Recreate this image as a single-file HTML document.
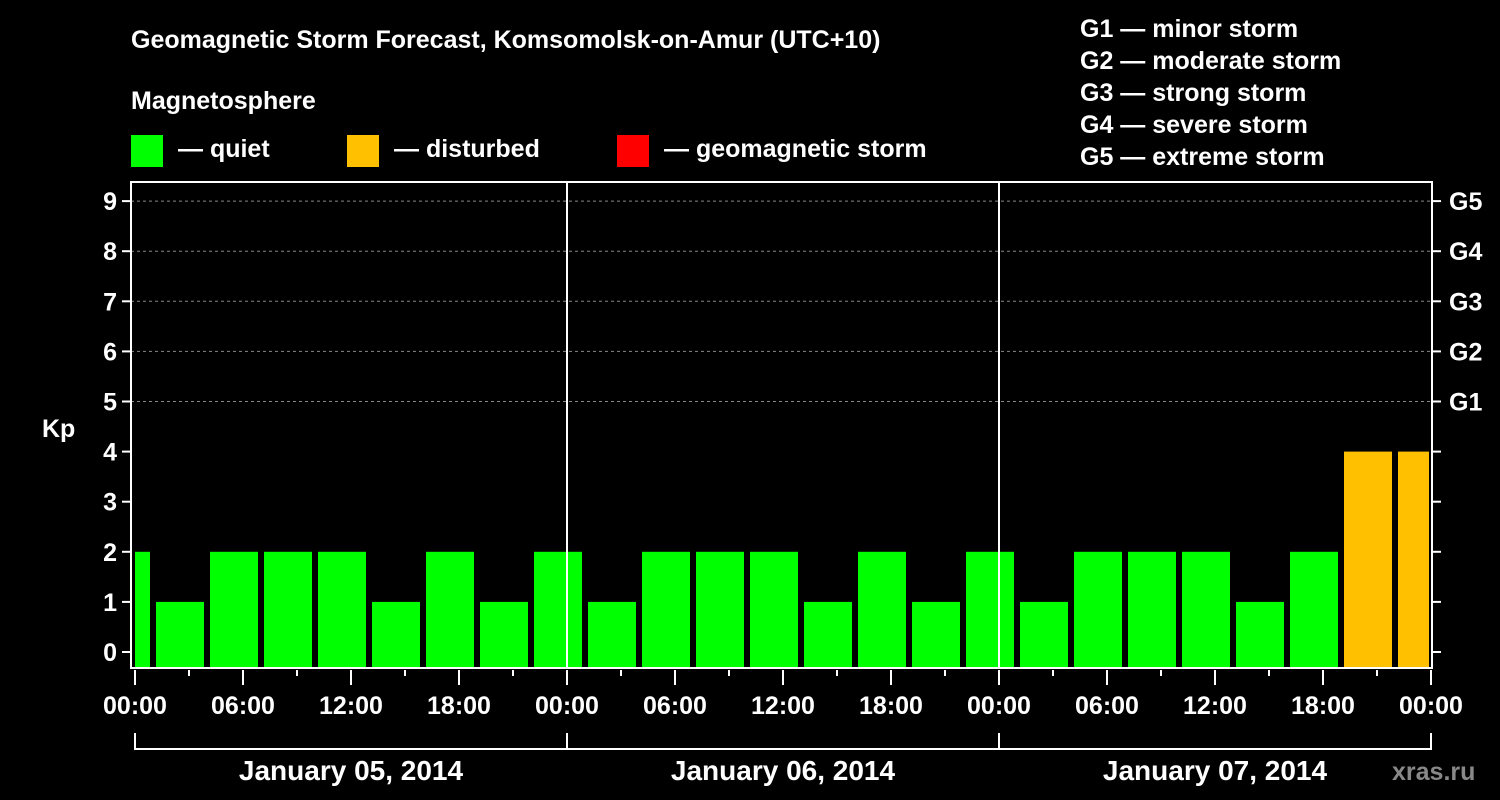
<!DOCTYPE html>
<html><head><meta charset="utf-8"><style>
body{margin:0;background:#000;}
svg{display:block;font-family:"Liberation Sans",Arial,sans-serif;font-weight:bold;}
</style></head><body>
<svg id="c" width="1500" height="800" xmlns="http://www.w3.org/2000/svg">
<rect width="1500" height="800" fill="#000"/>
<g fill="#fff" font-size="25">
<text x="131" y="48">Geomagnetic Storm Forecast, Komsomolsk-on-Amur (UTC+10)</text>
<text x="131" y="109">Magnetosphere</text>
<text x="178" y="157">— quiet</text>
<text x="394" y="157">— disturbed</text>
<text x="664" y="157">— geomagnetic storm</text>
<text x="1080" y="37">G1 — minor storm</text>
<text x="1080" y="69">G2 — moderate storm</text>
<text x="1080" y="101">G3 — strong storm</text>
<text x="1080" y="133">G4 — severe storm</text>
<text x="1080" y="165">G5 — extreme storm</text>
<text x="42" y="437">Kp</text>
<text x="1392" y="780" fill="#888" font-size="25">xras.ru</text>
</g>
<rect x="131" y="135" width="32" height="32" fill="#00ff00"/>
<rect x="347" y="135" width="32" height="32" fill="#ffc000"/>
<rect x="617" y="135" width="32" height="32" fill="#ff0000"/>
<g id="plot"></g>
</svg>
<script>
const values=[2,1,2,2,2,1,2,1,2,1,2,2,2,1,2,1,2,1,2,2,2,1,2,4,4];
const yTicks=[0,1,2,3,4,5,6,7,8,9];
const gLabels=[[5,"G1"],[6,"G2"],[7,"G3"],[8,"G4"],[9,"G5"]];
const hourLabels=["00:00","06:00","12:00","18:00","00:00","06:00","12:00","18:00","00:00","06:00","12:00","18:00","00:00"];
const dates=["January 05, 2014","January 06, 2014","January 07, 2014"];
const NS="http://www.w3.org/2000/svg";
const L=131,R=1432,T=182,B=668,x0=135;
const X=h=>x0+h*18;
const Y=v=>652-v*50.1;
const g=document.getElementById('plot');
function mk(t,a,txt){const e=document.createElementNS(NS,t);for(const k in a)e.setAttribute(k,a[k]);if(txt!==undefined)e.textContent=txt;g.appendChild(e);return e;}
// grid
for(const v of yTicks){
 if(v>=5){const e=mk('line',{x1:L,x2:R,y1:Y(v),y2:Y(v),stroke:'#888','stroke-dasharray':'3,3','stroke-width':1});
 
 }
 const t=mk('line',{x1:L-9,x2:L,y1:Y(v),y2:Y(v),stroke:'#fff','stroke-width':2});
 
 
 const t2=mk('line',{x1:R,x2:R+9,y1:Y(v),y2:Y(v),stroke:'#fff','stroke-width':2});
 
 
 const lb=mk('text',{x:L-14,y:Y(v)+9,fill:'#fff','font-size':25,'text-anchor':'end'},String(v));
 
 
}
for(const [v,s] of gLabels){
 const lb=mk('text',{x:R+17,y:Y(v)+9,fill:'#fff','font-size':25},s);
 
 
}
// bars
values.forEach((v,i)=>{
 let h0=-2+3*i,h1=h0+3;
 let xa=X(h0)+3,xb=X(h1)-3;
 if(xa<L+4)xa=L+4;
 if(xb>R-3)xb=R-3;
 const col=v>=5?'#ff0000':v>=4?'#ffc000':'#00ff00';
 const b=mk('rect',{x:xa,y:Y(v),width:xb-xa,height:B-Y(v),fill:col});
 
 
});
// day separators
for(const d of [1,2]){const e=mk('line',{x1:X(24*d),x2:X(24*d),y1:T,y2:B,stroke:'#fff','stroke-width':2});
 
 }
// frame
const f=mk('rect',{x:L,y:T,width:R-L,height:B-T,fill:'none',stroke:'#fff','stroke-width':2});


// x ticks
for(let h=0;h<=72;h+=3){const major=h%6===0;
 const e=mk('line',{x1:X(h),x2:X(h),y1:B+2,y2:B+(major?17:8),stroke:'#fff','stroke-width':2});
 
 }
hourLabels.forEach((s,i)=>{const t=mk('text',{x:X(i*6),y:714,fill:'#fff','font-size':25,'text-anchor':'middle'},s);
 
 });
// date bracket
const br=mk('path',{d:`M${X(0)},733 V749 H${X(72)} V733 M${X(24)},733 V749 M${X(48)},733 V749`,stroke:'#fff','stroke-width':2,fill:'none'});


dates.forEach((s,i)=>{const t=mk('text',{x:X(24*i+12),y:780,fill:'#fff','font-size':28,'text-anchor':'middle'},s);
 
 });
</script>
</body></html>
